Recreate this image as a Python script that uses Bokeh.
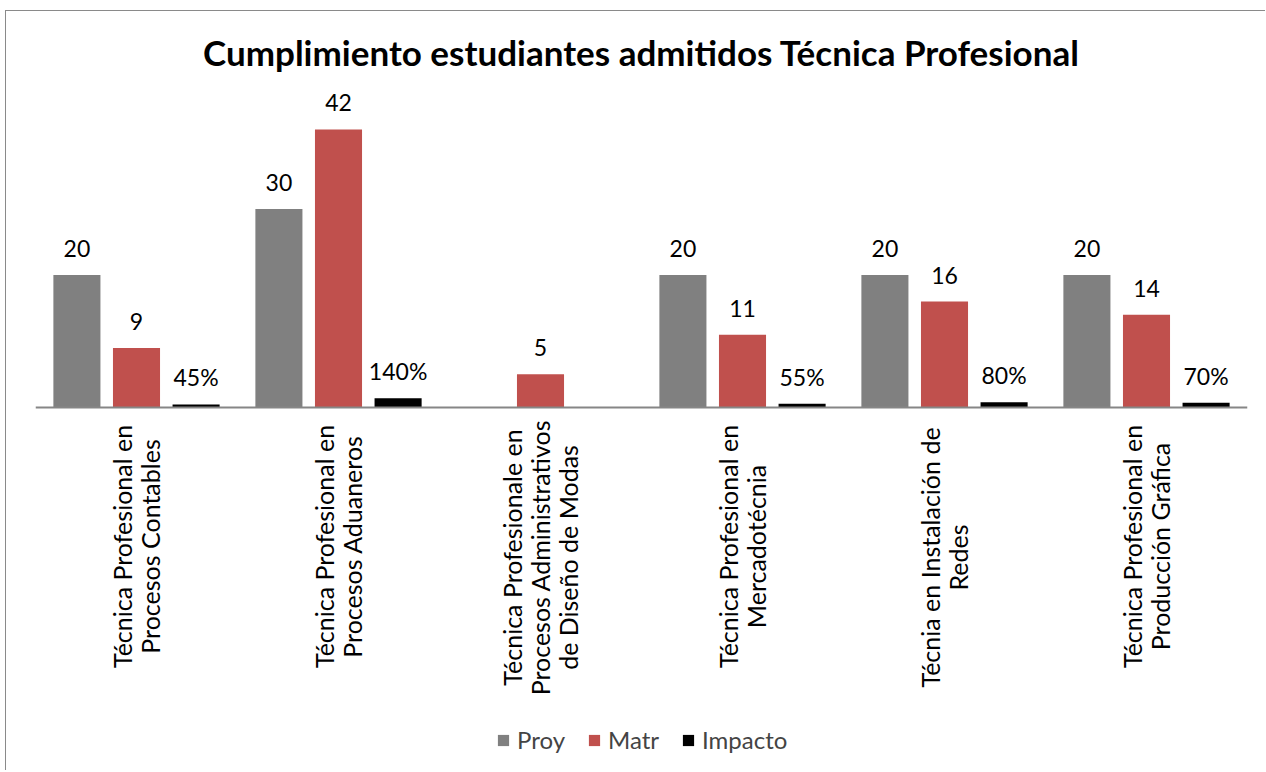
import math
from bokeh.plotting import figure
from bokeh.models import (ColumnDataSource, FactorRange, Range1d, Legend, LegendItem,
                          LabelSet, Span)
from bokeh.transform import dodge
from bokeh.core.properties import value
from bokeh.embed import file_html
from bokeh.resources import INLINE

# ---- data ----
categories = [
    "Técnica Profesional en Procesos Contables",
    "Técnica Profesional en Procesos Aduaneros",
    "Técnica Profesionale en Procesos Administrativos de Diseño de Modas",
    "Técnica Profesional en Mercadotécnia",
    "Técnia en Instalación de Redes",
    "Técnica Profesional en Producción Gráfica",
]
category_label_lines = [
    ["Técnica Profesional en", "Procesos Contables"],
    ["Técnica Profesional en", "Procesos Aduaneros"],
    ["Técnica Profesionale en", "Procesos Administrativos", "de Diseño de Modas"],
    ["Técnica Profesional en", "Mercadotécnia"],
    ["Técnia en Instalación de", "Redes"],
    ["Técnica Profesional en", "Producción Gráfica"],
]
proy = [20, 30, None, 20, 20, 20]
matr = [9, 42, 5, 11, 16, 14]
impacto = [0.45, 1.40, None, 0.55, 0.80, 0.70]

title_text = "Cumplimiento estudiantes admitidos Técnica Profesional"
series_names = ["Proy", "Matr", "Impacto"]
colors = ["#808080", "#C0504D", "#000000"]

FONT = "Lato"
CAT_FONT_PX = 25
LINE_SPACING = 28
CHAR_EM = 0.44          # approximate average glyph advance of the font (em)
AXIS_GAP = 18

def nan(v):
    return float("nan") if v is None else v

src = ColumnDataSource(dict(
    cat=categories,
    proy=[nan(v) for v in proy],
    matr=[nan(v) for v in matr],
    imp=[nan(v) for v in impacto],
))

# the frame extends below the baseline so that rotated category labels and the
# legend are drawn inside it (annotations are clipped to the frame)
p = figure(
    x_range=FactorRange(factors=categories),
    y_range=Range1d(-55, 48.04),
    width=1260, height=760,
    min_border_left=29, min_border_right=19,
    min_border_top=78, min_border_bottom=0,
    output_backend="svg", toolbar_location=None,
)
p.styles = {"border-left": "1px solid #8a8a8a", "border-top": "1px solid #8a8a8a",
            "margin-left": "5px", "margin-top": "10px"}

p.title.text = title_text
p.title.align = "center"
p.title.text_font = FONT
p.title.text_font_style = "bold"
p.title.text_font_size = "35px"
p.title.text_color = "#000000"
p.title.standoff = 34

OFF = 0.295
W = 0.233
r1 = p.vbar(x=dodge("cat", -OFF, range=p.x_range), top="proy", width=W, source=src,
            fill_color=colors[0], line_color=None)
r2 = p.vbar(x=dodge("cat", 0, range=p.x_range), top="matr", width=W, source=src,
            fill_color=colors[1], line_color=None)
r3 = p.vbar(x=dodge("cat", OFF, range=p.x_range), top="imp", width=W, source=src,
            fill_color=colors[2], line_color=None)

# category axis line
p.add_layout(Span(location=0, dimension="width", line_color="#868686", line_width=2))

# data labels
def label_source(vals, fmt):
    xs, ys, ts = [], [], []
    for c, v in zip(categories, vals):
        if v is None:
            continue
        xs.append(c); ys.append(v); ts.append(fmt(v))
    return ColumnDataSource(dict(x=xs, y=ys, t=ts))

for vals, off, fmt in [
    (proy, -OFF, lambda v: f"{v:g}"),
    (matr, 0, lambda v: f"{v:g}"),
    (impacto, OFF, lambda v: f"{round(v * 100)}%"),
]:
    s = label_source(vals, fmt)
    p.add_layout(LabelSet(x=dodge("x", off, range=p.x_range), y="y", text="t", source=s,
                          text_align="center", text_baseline="alphabetic", y_offset=18,
                          text_font=value(FONT), text_font_size="23px",
                          text_color="#000000"))

# category labels: rotated, wrapped, lines centred on each other, block top-aligned
cx, cy, ct, cxo, cyo = [], [], [], [], []
for cat, lines in zip(categories, category_label_lines):
    n = len(lines)
    longest = max(len(s) for s in lines) * CHAR_EM * CAT_FONT_PX
    for j, line in enumerate(lines):
        cx.append(cat); cy.append(0); ct.append(line)
        cxo.append((j - (n - 1) / 2) * LINE_SPACING)
        cyo.append(-(AXIS_GAP + longest / 2))
cat_src = ColumnDataSource(dict(x=cx, y=cy, t=ct, xo=cxo, yo=cyo))
p.add_layout(LabelSet(x="x", y="y", text="t", source=cat_src, angle=math.pi / 2,
                      x_offset="xo", y_offset="yo",
                      text_align="center", text_baseline="middle",
                      text_font=value(FONT), text_font_size=f"{CAT_FONT_PX}px",
                      text_color="#000000"))

p.xgrid.visible = False
p.ygrid.visible = False
p.outline_line_color = None
p.xaxis.visible = False
p.yaxis.visible = False

legend = Legend(
    items=[LegendItem(label=series_names[0], renderers=[r1]),
           LegendItem(label=series_names[1], renderers=[r2]),
           LegendItem(label=series_names[2], renderers=[r3])],
    orientation="horizontal", location=(461, 17),
    glyph_width=14, glyph_height=14, label_standoff=7, spacing=22,
    label_text_font=FONT, label_text_font_size="24px",
    border_line_color=None, background_fill_alpha=0,
    margin=0, padding=0,
)
p.add_layout(legend, "center")

open("out.html", "w").write(file_html(p, INLINE))
